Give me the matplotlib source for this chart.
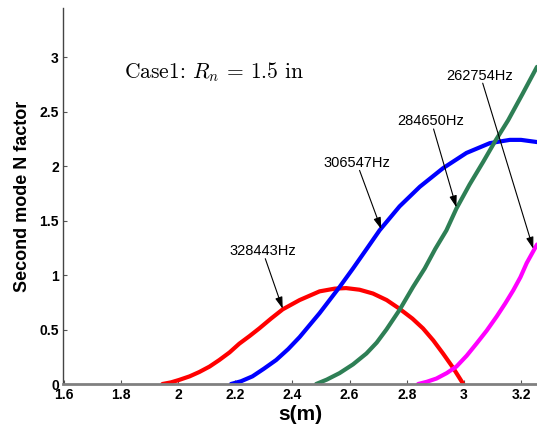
import matplotlib
matplotlib.use("Agg")
import matplotlib.pyplot as plt

plt.rcParams["mathtext.fontset"] = "cm"

# N factor curves, s (m) vs N
s_328 = [1.945, 1.975, 2.003, 2.04, 2.074, 2.11, 2.144, 2.18, 2.214, 2.25, 2.284, 2.325, 2.366,
         2.425, 2.495, 2.548, 2.588, 2.635, 2.682, 2.73, 2.775, 2.82, 2.857, 2.893, 2.927, 2.962, 2.998]
n_328 = [0.0, 0.015, 0.037, 0.07, 0.11, 0.16, 0.22, 0.29, 0.37, 0.44, 0.51, 0.60, 0.685,
         0.77, 0.85, 0.875, 0.88, 0.865, 0.83, 0.77, 0.69, 0.60, 0.51, 0.40, 0.28, 0.15, 0.0]

s_306 = [2.185, 2.22, 2.26, 2.30, 2.343, 2.385, 2.425, 2.46, 2.495, 2.53, 2.565, 2.612, 2.66,
         2.705, 2.775, 2.846, 2.927, 3.009, 3.091, 3.161, 3.2, 3.256]
n_306 = [0.0, 0.025, 0.07, 0.14, 0.22, 0.32, 0.43, 0.54, 0.65, 0.77, 0.89, 1.06, 1.24,
         1.41, 1.63, 1.81, 1.98, 2.12, 2.21, 2.24, 2.24, 2.22]

s_284 = [2.483, 2.52, 2.565, 2.612, 2.659, 2.695, 2.729, 2.775, 2.822, 2.863, 2.90, 2.939,
         2.974, 3.02, 3.068, 3.11, 3.155, 3.205, 3.256]
n_284 = [0.0, 0.04, 0.10, 0.18, 0.28, 0.38, 0.50, 0.68, 0.89, 1.06, 1.24, 1.41,
         1.61, 1.83, 2.04, 2.23, 2.42, 2.66, 2.91]

s_262 = [2.84, 2.87, 2.904, 2.94, 2.974, 3.01, 3.044, 3.08, 3.115, 3.145, 3.173, 3.198, 3.22, 3.256]
n_262 = [0.0, 0.02, 0.05, 0.10, 0.16, 0.26, 0.37, 0.49, 0.62, 0.74, 0.86, 0.98, 1.11, 1.28]

labels = ["328443Hz", "306547Hz", "284650Hz", "262754Hz"]
label_pos = [(2.295, 1.22), (2.625, 2.03), (2.884, 2.41), (3.056, 2.83)]
arrow_tip = [(2.366, 0.69), (2.711, 1.42), (2.974, 1.62), (3.243, 1.24)]

fig = plt.figure(figsize=(5.37, 4.33), dpi=100)
ax = fig.add_axes([63 / 537, 1 - 384 / 433, 1 - 63 / 537, (384 - 8) / 433])

ax.plot(s_328, n_328, color="#ff0000", lw=3, solid_capstyle="round")
ax.plot(s_306, n_306, color="#0000ff", lw=3, solid_capstyle="round")
ax.plot(s_284, n_284, color="#2e7f55", lw=3, solid_capstyle="round")
ax.plot(s_262, n_262, color="#ff00ff", lw=3, solid_capstyle="round")

for lab, (tx, ty), (hx, hy) in zip(labels, label_pos, arrow_tip):
    ax.text(tx, ty, lab, fontsize=10.5, ha="center", va="center", family="Liberation Sans")
    ax.annotate("", xy=(hx, hy), xytext=(tx + 0.01, ty - 0.07),
                arrowprops=dict(arrowstyle="-|>,head_length=0.7,head_width=0.22",
                                color="black", lw=0.8, shrinkA=0, shrinkB=0))

ax.text(2.126, 2.86, r"Case1: $R_n$ = 1.5 in", fontsize=15.5, family="cmr10",
        ha="center", va="center")

ax.set_xlim(1.597, 3.256)
ax.set_ylim(0, 3.45)
ax.set_xticks([1.6, 1.8, 2.0, 2.2, 2.4, 2.6, 2.8, 3.0, 3.2])
ax.set_xticklabels(["1.6", "1.8", "2", "2.2", "2.4", "2.6", "2.8", "3", "3.2"])
ax.set_yticks([0, 0.5, 1, 1.5, 2, 2.5, 3])
ax.set_yticklabels(["0", "0.5", "1", "1.5", "2", "2.5", "3"])

for lbl in ax.get_xticklabels() + ax.get_yticklabels():
    lbl.set_fontweight("bold")
    lbl.set_family("Liberation Sans")
    lbl.set_fontsize(10)

ax.tick_params(direction="in", length=3, width=0.8, colors="#555555", labelcolor="black", pad=3)
ax.spines["top"].set_visible(False)
ax.spines["right"].set_visible(False)
ax.spines["left"].set_color("#444444")
ax.spines["left"].set_linewidth(1.0)
ax.spines["bottom"].set_color("#808080")
ax.spines["bottom"].set_linewidth(2.0)

ax.set_xlabel("s(m)", fontsize=15, fontweight="bold", family="Liberation Sans", labelpad=2)
ax.set_ylabel("Second mode N factor", fontsize=13, fontweight="bold", family="Liberation Sans", labelpad=6)

fig.savefig("out.png", dpi=100)
